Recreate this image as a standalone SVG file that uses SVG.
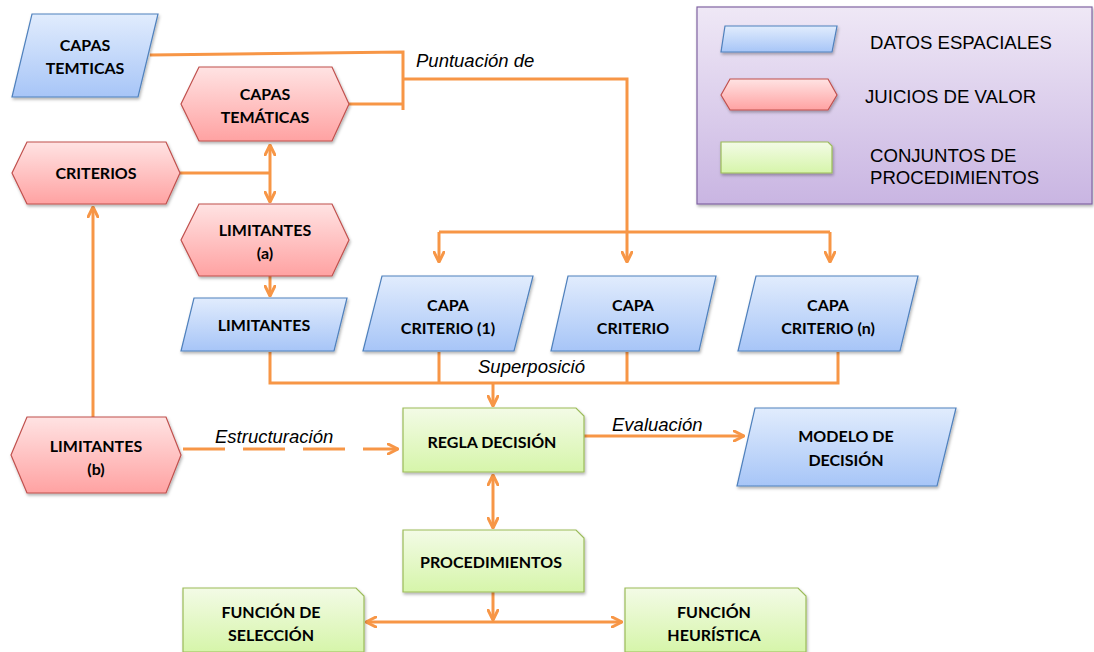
<svg xmlns="http://www.w3.org/2000/svg" width="1094" height="652" viewBox="0 0 1094 652">
<defs>
<linearGradient id="gBlue" x1="0" y1="0" x2="0" y2="1"><stop offset="0" stop-color="#e1ecfd"/><stop offset="1" stop-color="#a7c5f7"/></linearGradient>
<linearGradient id="gRed" x1="0" y1="0" x2="0" y2="1"><stop offset="0" stop-color="#ffe3e3"/><stop offset="1" stop-color="#ffa2a2"/></linearGradient>
<linearGradient id="gGreen" x1="0" y1="0" x2="0" y2="1"><stop offset="0" stop-color="#f3fbe6"/><stop offset="1" stop-color="#d6f5aa"/></linearGradient>
<linearGradient id="gLeg" x1="0" y1="0" x2="0" y2="1"><stop offset="0" stop-color="#efe8f6"/><stop offset="1" stop-color="#c9b5e2"/></linearGradient>
<filter id="sh" x="-10%" y="-10%" width="130%" height="140%"><feDropShadow dx="1" dy="2" stdDeviation="1.5" flood-color="#000" flood-opacity="0.3"/></filter>
<marker id="ar" viewBox="0 0 12 12" refX="11" refY="6" markerWidth="12" markerHeight="12" markerUnits="userSpaceOnUse" orient="auto-start-reverse">
<path d="M1,1 L11,6 L1,11" fill="none" stroke="#f79646" stroke-width="3" stroke-linecap="round" stroke-linejoin="round"/>
</marker>
<style>
.blue{fill:url(#gBlue);stroke:#4f81bd;stroke-width:1.2;filter:url(#sh)}
.red{fill:url(#gRed);stroke:#c0504d;stroke-width:1.2;filter:url(#sh)}
.green{fill:url(#gGreen);stroke:#9bbb59;stroke-width:1.2;filter:url(#sh)}
.lbl{font-family:Lato,"Liberation Sans",sans-serif;font-weight:bold;font-size:16px;fill:#000;text-anchor:middle}
.leg{font-family:"Liberation Sans",Arial,sans-serif;font-size:18.6px;fill:#000}
.it{font-family:"Liberation Sans",Arial,sans-serif;font-style:italic;font-size:18.5px;fill:#000}
.c{fill:none;stroke:#f79646;stroke-width:3}
.ca{fill:none;stroke:#f79646;stroke-width:3;marker-end:url(#ar)}
.cd{fill:none;stroke:#f79646;stroke-width:3;marker-end:url(#ar);marker-start:url(#ar)}
</style>
</defs>
<rect width="1094" height="652" fill="#fff"/>

<g id="legend">
<rect x="697" y="7" width="395" height="197" fill="url(#gLeg)" stroke="#8064a2" stroke-width="1.2" filter="url(#sh)"/>
<path class="blue" d="M725,26 H837 L832,52 H721 Z"/>
<text class="leg" x="870" y="49">DATOS ESPACIALES</text>
<path class="red" d="M721,95 L730,79 H828 L837,95 L828,110 H730 Z"/>
<text class="leg" x="865" y="103">JUICIOS DE VALOR</text>
<path class="green" d="M721,142 H828 L832,146 V173 H721 Z"/>
<text class="leg" x="870" y="162">CONJUNTOS DE</text>
<text class="leg" x="870" y="184">PROCEDIMIENTOS</text>
</g>

<g id="connectors">
<path class="c" d="M150,55 L403,52 V110 M349,104 H403"/>
<path class="ca" d="M403,79 H627 V262"/>
<path class="c" d="M439,232 H830"/>
<path class="ca" d="M439,232 V262"/>
<path class="ca" d="M830,232 V262"/>
<path class="c" d="M180,173 H270"/>
<path class="cd" d="M270,145 V202"/>
<path class="ca" d="M270,266 V296"/>
<path class="c" d="M270,352 V383 H838 V352 M439,352 V383 M627,352 V383"/>
<path class="ca" d="M493,383 V406"/>
<path class="ca" d="M93,417 V207"/>
<path class="ca" d="M183,449 H398" stroke-dasharray="42 18"/>
<path class="ca" d="M584,436 H744"/>
<path class="cd" d="M493,475 V528"/>
<path class="ca" d="M493,592 V620"/>
<path class="cd" d="M366,622 H622"/>
</g>

<g id="labels">
<text class="it" x="416" y="67">Puntuación de</text>
<text class="it" x="478" y="373">Superposició</text>
<text class="it" x="215" y="443">Estructuración</text>
<text class="it" x="612" y="431">Evaluación</text>
</g>

<g id="n-capas-temticas">
<path class="blue" d="M32,14 H158 L138,97 H12 Z"/>
<text class="lbl" x="85" y="51">CAPAS</text>
<text class="lbl" x="85" y="74">TEMTICAS</text>
</g>
<g id="n-capas-tematicas">
<path class="red" d="M181,104 L199,67 H332 L349,104 L332,141 H199 Z"/>
<text class="lbl" x="265" y="100">CAPAS</text>
<text class="lbl" x="265" y="123">TEMÁTICAS</text>
</g>
<g id="n-criterios">
<path class="red" d="M12,173 L27,142 H166 L180,173 L166,204 H27 Z"/>
<text class="lbl" x="96" y="179">CRITERIOS</text>
</g>
<g id="n-limitantes-a">
<path class="red" d="M181,240 L199,204 H332 L349,240 L332,276 H199 Z"/>
<text class="lbl" x="265" y="236">LIMITANTES</text>
<text class="lbl" x="265" y="259">(a)</text>
</g>
<g id="n-limitantes">
<path class="blue" d="M194,298 H347 L334,351 H181 Z"/>
<text class="lbl" x="264" y="331">LIMITANTES</text>
</g>
<g id="n-capa-criterio-1">
<path class="blue" d="M382,276 H533 L514,351 H363 Z"/>
<text class="lbl" x="448" y="311">CAPA</text>
<text class="lbl" x="448" y="334">CRITERIO (1)</text>
</g>
<g id="n-capa-criterio">
<path class="blue" d="M568,276 H716 L699,351 H551 Z"/>
<text class="lbl" x="633" y="311">CAPA</text>
<text class="lbl" x="633" y="334">CRITERIO</text>
</g>
<g id="n-capa-criterio-n">
<path class="blue" d="M756,276 H918 L900,351 H738 Z"/>
<text class="lbl" x="828" y="311">CAPA</text>
<text class="lbl" x="828" y="334">CRITERIO (n)</text>
</g>
<g id="n-limitantes-b">
<path class="red" d="M11,455 L27,417 H166 L181,455 L166,493 H27 Z"/>
<text class="lbl" x="96" y="452">LIMITANTES</text>
<text class="lbl" x="96" y="475">(b)</text>
</g>
<g id="n-regla-decision">
<path class="green" d="M403,408 H576 L584,416 V472 H403 Z"/>
<text class="lbl" x="492" y="448">REGLA DECISIÓN</text>
</g>
<g id="n-modelo-decision">
<path class="blue" d="M755,408 H956 L937,486 H737 Z"/>
<text class="lbl" x="846" y="442">MODELO DE</text>
<text class="lbl" x="846" y="466">DECISIÓN</text>
</g>
<g id="n-procedimientos">
<path class="green" d="M403,530 H576 L584,538 V592 H403 Z"/>
<text class="lbl" x="491" y="568">PROCEDIMIENTOS</text>
</g>
<g id="n-funcion-seleccion">
<path class="green" d="M183,588 H356 L364,596 V652 H183 Z"/>
<text class="lbl" x="271" y="618">FUNCIÓN DE</text>
<text class="lbl" x="271" y="641">SELECCIÓN</text>
</g>
<g id="n-funcion-heuristica">
<path class="green" d="M625,588 H798 L806,596 V652 H625 Z"/>
<text class="lbl" x="714" y="618">FUNCIÓN</text>
<text class="lbl" x="714" y="641">HEURÍSTICA</text>
</g>
</svg>
